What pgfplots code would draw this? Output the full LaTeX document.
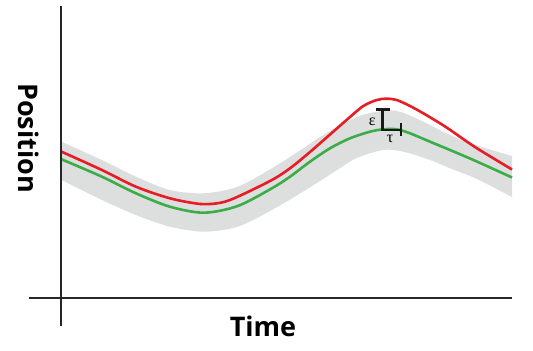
\documentclass[border=0pt]{standalone}
\usepackage{pgfplots}
\pgfplotsset{compat=1.18}
\usepgfplotslibrary{fillbetween}
\usepackage{fontspec}
\setmainfont{Open Sans}
\newfontfamily\greekfont{Liberation Serif}
\definecolor{bandgray}{RGB}{221,222,222}
\definecolor{cred}{RGB}{232,28,36}
\definecolor{cgreen}{RGB}{60,172,72}
\begin{document}
\begin{tikzpicture}
\begin{axis}[
  scale only axis, width=533bp, height=351bp,
  xmin=0, xmax=533, ymin=0, ymax=351,
  hide axis, clip=false,
]
\path (axis cs:0,0) rectangle (axis cs:533,351);
% band
\addplot[name path=up, draw=none, smooth, forget plot] coordinates {
(61.5,209.3)(101.9,191)(135.9,174.3)(169.9,161)(203.9,157.7)(237.8,164.3)(271.9,182.7)(305.8,204.3)(323.3,216)(356.7,234)(383.3,240.3)(400,239.3)(423.3,229.3)(450,216)(475.7,206)(512,195)};
\addplot[name path=lo, draw=none, smooth, forget plot] coordinates {
(61.5,171)(101.9,151)(135.9,136)(169.9,124.3)(203.9,119.3)(237.8,124.3)(271.9,141)(305.8,161)(339.8,182.7)(356.7,193)(383.3,201)(403.3,199.3)(430,191)(450,182.7)(475.7,172.5)(512,154)};
\addplot[bandgray, draw=none] fill between[of=up and lo];
% green
\addplot[cgreen, line width=2.6bp, smooth] coordinates {
(61.5,191.7)(101.9,174.3)(135.9,157.7)(169.9,144.3)(203.9,138.3)(237.8,145)(271.9,162.7)(290,174.3)(310,189.3)(330,202.7)(350,212.7)(370,219.3)(383.3,221.7)(396.7,221.7)(410,217.7)(430,209.3)(450,201)(475.7,190)(512,173.5)};
% red
\addplot[cred, line width=2.6bp, smooth] coordinates {
(61.5,199.3)(101.9,181)(135.9,164.3)(169.9,152.7)(200.5,147)(220.9,148.3)(237.8,154.3)(271.9,171)(290,182.7)(310,199)(330,216.5)(350,234)(363.3,245)(376.7,251)(386.7,252.3)(396.7,251)(410,245)(423.3,237.7)(440,227.7)(450,221.2)(475.7,203.5)(512,181.5)};
% axes
\addplot[black!85, line width=2.4bp] coordinates {(61,345)(61,25)};
\addplot[black!85, line width=2.4bp] coordinates {(29,52.7)(512,52.7)};
% annotation
\addplot[black!90, line width=2.6bp] coordinates {(382.5,241.7)(382.5,221)(401,221)};
\addplot[black!90, line width=2.6bp] coordinates {(376,241.7)(389.5,241.7)};
\addplot[black!90, line width=2.6bp] coordinates {(401,227.7)(401,215)};
\node[font=\fontsize{16bp}{16bp}\selectfont\greekfont] at (axis cs:372.3,229.5) {ε};
\node[font=\fontsize{16bp}{16bp}\selectfont\greekfont] at (axis cs:390,212) {τ};
% labels
\node[font=\fontsize{27bp}{27bp}\selectfont\bfseries] at (axis cs:263,25) {Time};
\node[font=\fontsize{27bp}{27bp}\selectfont\bfseries, rotate=-90] at (axis cs:29,213) {Position};
\end{axis}
\end{tikzpicture}
\end{document}
